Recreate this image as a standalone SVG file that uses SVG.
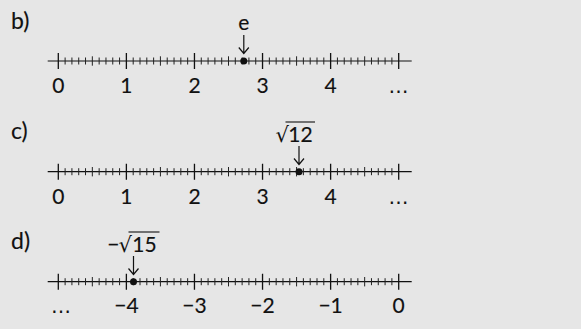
<svg xmlns="http://www.w3.org/2000/svg" width="581" height="329" viewBox="0 0 581 329">
<style>
.bg{fill:#e6e6e6}
.axis{stroke:#111;stroke-width:1.2;fill:none}
.minor{stroke:#222;stroke-width:1;fill:none}
.major{stroke:#111;stroke-width:1.3;fill:none}
.t{font-family:Lato,"Open Sans",sans-serif;font-size:21px;fill:#111;stroke:#111;stroke-width:0.15;text-anchor:middle}
.ell{font-family:"DejaVu Sans",sans-serif;font-size:20px;fill:#111;text-anchor:middle}
.lbl{font-family:Lato,"Open Sans",sans-serif;font-size:23px;fill:#111;stroke:#111;stroke-width:0.15}
.rad{font-family:"DejaVu Sans",sans-serif;fill:#111}
.arrow{stroke:#111;stroke-width:1.2;fill:none}
.dot{fill:#111}
.vinc{stroke:#111;stroke-width:1.1}
</style>
<defs>
<g id="ruler">
<path class="axis" d="M47.7 0H411.7"/>
<path class="minor" d="M65.11 -3.5V3.5M71.92 -3.5V3.5M78.72 -3.5V3.5M85.53 -3.5V3.5M99.15 -3.5V3.5M105.96 -3.5V3.5M112.76 -3.5V3.5M119.57 -3.5V3.5M133.19 -3.5V3.5M140 -3.5V3.5M146.8 -3.5V3.5M153.61 -3.5V3.5M167.23 -3.5V3.5M174.04 -3.5V3.5M180.84 -3.5V3.5M187.65 -3.5V3.5M201.27 -3.5V3.5M208.08 -3.5V3.5M214.88 -3.5V3.5M221.69 -3.5V3.5M235.31 -3.5V3.5M242.12 -3.5V3.5M248.92 -3.5V3.5M255.73 -3.5V3.5M269.35 -3.5V3.5M276.16 -3.5V3.5M282.96 -3.5V3.5M289.77 -3.5V3.5M303.39 -3.5V3.5M310.2 -3.5V3.5M317 -3.5V3.5M323.81 -3.5V3.5M337.43 -3.5V3.5M344.24 -3.5V3.5M351.04 -3.5V3.5M357.85 -3.5V3.5M371.47 -3.5V3.5M378.28 -3.5V3.5M385.08 -3.5V3.5M391.89 -3.5V3.5"/>
<path class="minor" d="M92.34 -4.7V4.7M160.42 -4.7V4.7M228.5 -4.7V4.7M296.58 -4.7V4.7M364.66 -4.7V4.7"/>
<path class="major" d="M58.3 -8V8M126.38 -8V8M194.46 -8V8M262.54 -8V8M330.62 -8V8M398.7 -8V8"/>
</g>
<path id="arrowshape" class="arrow" d="M0 0V18.5M-5 12.5L0 18.5L5 12.5"/>
</defs>
<rect class="bg" x="0" y="0" width="581" height="329"/>

<g id="line-b">
<text class="lbl" x="11" y="29">b)</text>
<use href="#ruler" y="61"/>
<text class="t" x="58.3" y="93">0</text>
<text class="t" x="126.4" y="93">1</text>
<text class="t" x="194.5" y="93">2</text>
<text class="t" x="262.5" y="93">3</text>
<text class="t" x="330.6" y="93">4</text>
<text class="ell" x="398.5" y="93">…</text>
<text class="t" x="243.8" y="30">e</text>
<circle class="dot" cx="243.8" cy="61" r="3.5"/>
</g>

<g id="line-c">
<text class="lbl" x="11" y="139">c)</text>
<use href="#ruler" y="171.7"/>
<text class="t" x="58.3" y="204">0</text>
<text class="t" x="126.4" y="204">1</text>
<text class="t" x="194.5" y="204">2</text>
<text class="t" x="262.5" y="204">3</text>
<text class="t" x="330.6" y="204">4</text>
<text class="ell" x="398.5" y="204">…</text>
<text class="rad" x="275.5" y="142" font-size="21">√</text>
<line class="vinc" x1="285.5" y1="122" x2="315" y2="122"/>
<text class="t" x="300.5" y="142">12</text>
<circle class="dot" cx="299" cy="171.7" r="3.5"/>
</g>

<g id="line-d">
<text class="lbl" x="11" y="249">d)</text>
<use href="#ruler" y="281.7"/>
<text class="ell" x="61" y="313">…</text>
<text class="t" x="126.4" y="313">−4</text>
<text class="t" x="194.5" y="313">−3</text>
<text class="t" x="262.5" y="313">−2</text>
<text class="t" x="330.6" y="313">−1</text>
<text class="t" x="398.7" y="313">0</text>
<text class="t" x="113.3" y="251.5">−</text>
<text class="rad" x="118.5" y="251.5" font-size="21">√</text>
<line class="vinc" x1="128.5" y1="232" x2="159.5" y2="232"/>
<text class="t" x="144.5" y="251.5">15</text>
<circle class="dot" cx="133.5" cy="281.7" r="3.5"/>
</g>

<g id="connectors">
<use href="#arrowshape" x="243.8" y="35"/>
<use href="#arrowshape" x="299" y="146"/>
<use href="#arrowshape" x="133.5" y="256"/>
</g>
</svg>
